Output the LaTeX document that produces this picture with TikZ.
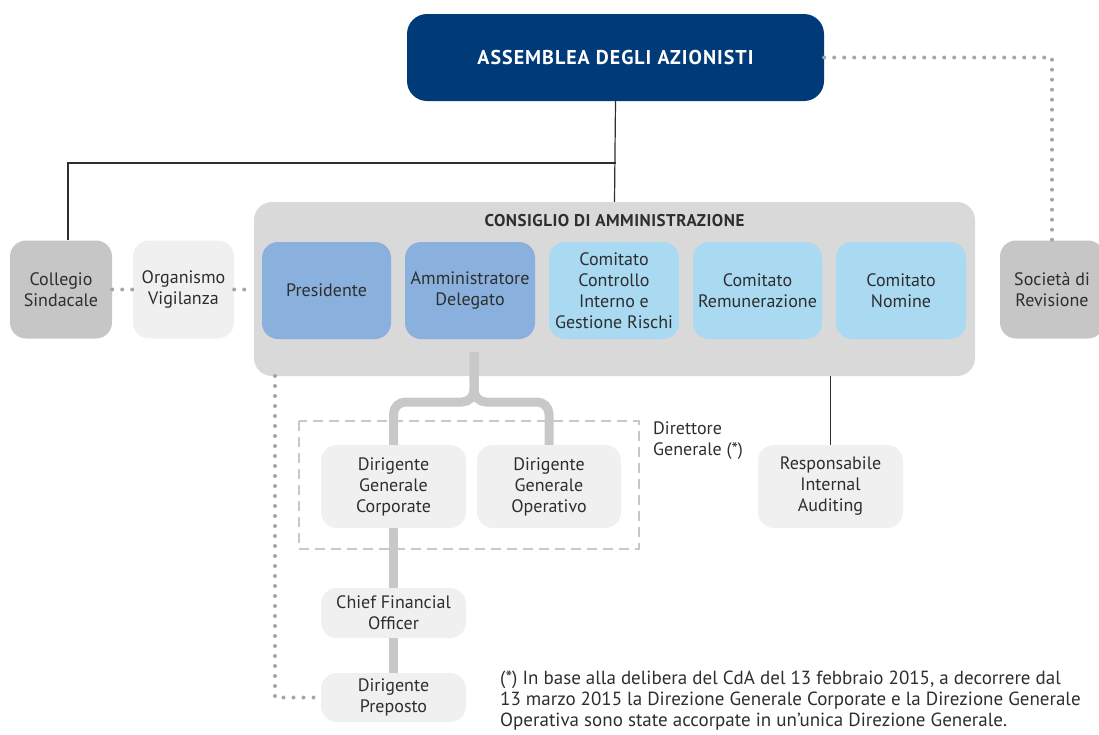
\documentclass[tikz,border=0pt]{standalone}
\usepackage{fontspec}
\setmainfont{PT Sans}
\begin{document}
\begin{tikzpicture}[x=1pt,y=-1pt,
  box/.style={rounded corners=16pt, align=center, inner sep=0pt, text=txt,
    font=\fontsize{18}{21}\selectfont},
  blue1/.style={box, fill=pblue},
  blue2/.style={box, fill=lblue},
  gbox/.style={box, fill=mgray},
  wbox/.style={box, fill=lgray},
  thinl/.style={draw=txt, line width=1.2pt},
  thickl/.style={draw=bgray, line width=9pt},
  dots/.style={draw=dgray, line width=4pt, line cap=round, dash pattern=on 0pt off 10pt},
]
\definecolor{navy}{HTML}{003A78}
\definecolor{txt}{HTML}{2E2E2E}
\definecolor{pblue}{HTML}{8AB1DE}
\definecolor{lblue}{HTML}{A9DAF1}
\definecolor{mgray}{HTML}{C6C6C6}
\definecolor{lgray}{HTML}{F0F0F0}
\definecolor{cgray}{HTML}{D9D9D9}
\definecolor{bgray}{HTML}{C8C8C8}
\definecolor{dgray}{HTML}{A5A5A5}
\useasboundingbox (0,0) rectangle (1099,734);

\node[box, fill=navy, minimum width=417pt, minimum height=87pt, rounded corners=20pt,
  text=white, font=\fontsize{20}{22}\selectfont\bfseries\addfontfeature{LetterSpace=5}] (ass) at (615.5,57.5) {ASSEMBLEA DEGLI AZIONISTI};
\node[box, fill=cgray, minimum width=721pt, minimum height=174pt, rounded corners=18pt] (cda) at (614.5,289) {};
\node[font=\fontsize{17}{18}\selectfont\bfseries\addfontfeature{LetterSpace=3}, text=txt, inner sep=0pt] (cdat) at (614.5,221) {CONSIGLIO DI AMMINISTRAZIONE};

\node[blue1, minimum width=129pt, minimum height=97pt] (pres) at (326.5,290.5) {Presidente};
\node[blue1, minimum width=130pt, minimum height=97pt] (ad) at (470,290.5) {Amministratore\\Delegato};
\node[blue2, minimum width=130pt, minimum height=97pt] (ccr) at (614,290.5) {Comitato\\Controllo\\Interno e\\Gestione Rischi};
\node[blue2, minimum width=129pt, minimum height=97pt] (crem) at (757.5,290.5) {Comitato\\Remunerazione};
\node[blue2, minimum width=130pt, minimum height=97pt] (cnom) at (901,290.5) {Comitato\\Nomine};

\node[gbox, minimum width=102pt, minimum height=98pt] (col) at (61,289.5) {Collegio\\Sindacale};
\node[wbox, minimum width=101pt, minimum height=98pt] (org) at (183.5,289.5) {Organismo\\Vigilanza};
\node[gbox, minimum width=104pt, minimum height=98pt] (soc) at (1052,289.5) {Società di\\Revisione};

\node[wbox, minimum width=145pt, minimum height=83pt] (dgc) at (393.5,486.5) {Dirigente\\Generale\\Corporate};
\node[wbox, minimum width=144pt, minimum height=83pt] (dgo) at (549,486.5) {Dirigente\\Generale\\Operativo};
\node[wbox, minimum width=145pt, minimum height=83pt] (ria) at (830.5,486.5) {Responsabile\\Internal\\Auditing};
\node[wbox, minimum width=145pt, minimum height=50pt] (cfo) at (393.5,613) {Chief Financial\\Officer};
\node[wbox, minimum width=145pt, minimum height=49pt] (prep) at (393.5,697.5) {Dirigente\\Preposto};

\node[anchor=north west, align=left, inner sep=0pt, text=txt, font=\fontsize{18}{21}\selectfont] (dg) at (653,422) {Direttore\\Generale (*)};
\node[anchor=north west, align=left, inner sep=0pt, text=txt, font=\fontsize{19}{21}\selectfont] (note) at (500,671) {(*) In base alla delibera del CdA del 13 febbraio 2015, a decorrere dal\\13 marzo 2015 la Direzione Generale Corporate e la Direzione Generale\\Operativa sono state accorpate in un'unica Direzione Generale.};

% dashed frame
\draw[draw=bgray, line width=2pt, dash pattern=on 10pt off 6pt] (299,421) rectangle (639,549);

% solid connectors
\coordinate (j) at (ass.south |- 0,163);
\draw[thinl] (ass.south) -- (cda.north);
\draw[thinl] (j) -| ([xshift=7pt]col.north);
\draw[thinl] (ria.north |- cda.south) -- (ria.north);

% dotted connectors
\draw[dots] (ass.east) -| (soc.north);
\draw[dots] (col.east) -- (org.west);
\draw[dots] (org.east) -- (cda.west |- org.east);
\coordinate (pd) at (275,376);
\draw[dots] (pd) |- (prep.west);

% brace and thick links
\coordinate (bt) at (474,352);
\draw[thickl, rounded corners=12pt] (bt) -- (474,402) -- (dgc.north |- 0,402) -- (dgc.north);
\draw[thickl, rounded corners=12pt] (bt) -- (474,402) -- (dgo.north |- 0,402) -- (dgo.north);
\draw[thickl] (dgc.south) -- (cfo.north);
\draw[thickl] (cfo.south) -- (prep.north);
\end{tikzpicture}
\end{document}
